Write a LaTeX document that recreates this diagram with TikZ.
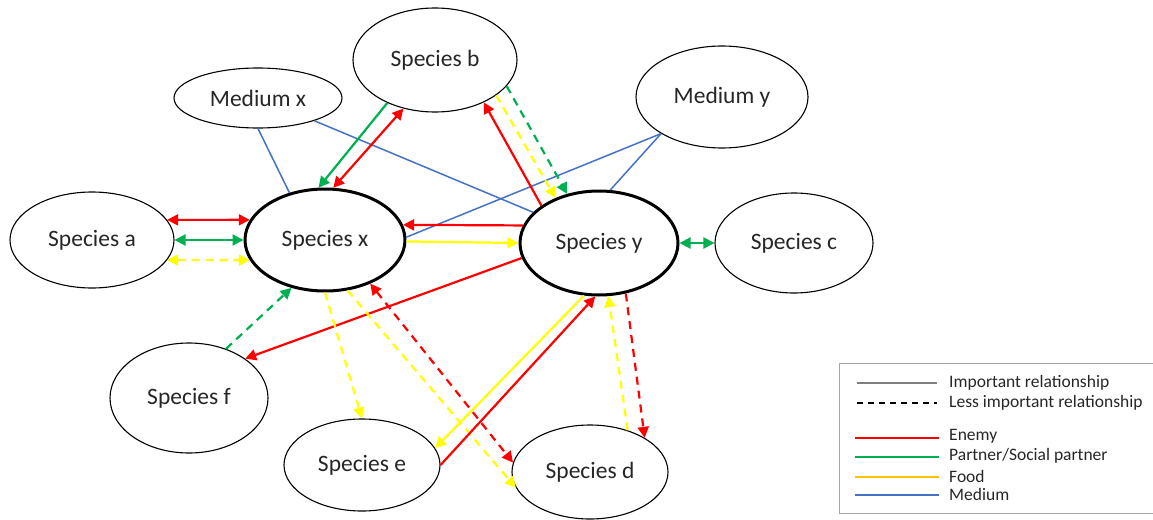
\documentclass[tikz,border=0pt]{standalone}
\usepackage{fontspec}
\setmainfont{Carlito}
\usetikzlibrary{arrows.meta,shapes.geometric}
\definecolor{cred}{HTML}{FF0000}
\definecolor{cgreen}{HTML}{00B050}
\definecolor{cyellow}{HTML}{FFFF00}
\definecolor{cfood}{HTML}{FFC000}
\definecolor{cblue}{HTML}{4472C4}
\definecolor{ctxt}{HTML}{262626}
\definecolor{cgray}{HTML}{7F7F7F}
\definecolor{cframe}{HTML}{A6A6A6}
\tikzset{
  sp/.style={ellipse,draw=black,line width=1.1pt,inner sep=0pt,text=ctxt,
    font=\fontsize{23.5}{27}\selectfont},
  main/.style={sp,line width=3pt},
  rel/.style={line width=2.2pt},
  tip/.style={-{Triangle[length=11pt,width=11pt]}},
  both/.style={{Triangle[length=11pt,width=11pt]}-{Triangle[length=11pt,width=11pt]}},
  less/.style={dash pattern=on 8pt off 6pt},
  enemy/.style={rel,draw=cred},
  partner/.style={rel,draw=cgreen},
  food/.style={rel,draw=cyellow},
  medium/.style={line width=1.5pt,draw=cblue},
  legtxt/.style={anchor=west,inner sep=0pt,text=ctxt,font=\fontsize{17.5}{20}\selectfont},
}
\begin{document}
\begin{tikzpicture}[x=1pt,y=-1pt]
\useasboundingbox (0,0) rectangle (1153,519);
% nodes
\node[sp,minimum width=164pt,minimum height=96pt] (a) at (92,240) {Species a};
\node[main,minimum width=160pt,minimum height=102pt] (x) at (325,240) {Species x};
\node[sp,minimum width=168pt,minimum height=60pt] (mx) at (258,98) {Medium x};
\node[sp,minimum width=164pt,minimum height=104pt] (b) at (435,60) {Species b};
\node[sp,minimum width=172pt,minimum height=102pt] (my) at (722,97) {Medium y};
\node[main,minimum width=158pt,minimum height=104pt] (y) at (599,243) {Species y};
\node[sp,minimum width=158pt,minimum height=100pt] (c) at (794,243) {Species c};
\node[sp,minimum width=158pt,minimum height=110pt] (f) at (189,398) {Species f};
\node[sp,minimum width=156pt,minimum height=92pt] (e) at (362,465) {Species e};
\node[sp,minimum width=156pt,minimum height=94pt] (d) at (590,472) {Species d};
% medium links
\draw[medium] (mx.270) -- (x.127);
\draw[medium] (mx.-22) -- (y.155);
\draw[medium] (my.211) -- (x.2);
\draw[medium] (my.211) -- (y.78);
% a - x
\draw[enemy,both] (a.15) -- (x.165);
\draw[partner,both] (a.0) -- (x.180);
\draw[food,both,less] (a.-15) -- (x.-165);
% b - x
\draw[partner,tip] (b.222) -- (x.97);
\draw[enemy,both] (b.237) -- (x.81);
% b - y
\draw[enemy,tip] (y.147) -- (b.-41);
\draw[food,tip,less] (b.-30) -- (y.134);
\draw[partner,tip,less] (b.-20) -- (y.123);
% x - y
\draw[enemy,tip] (y.167) -- (x.11);
\draw[food,tip] (x.-1) -- (y.180);
% y - c
\draw[partner,both] (y.0) -- (c.180);
% y - f, f - x
\draw[enemy,tip] (y.191) -- (f.35);
\draw[partner,tip,less] (f.53) -- (x.235);
% x - e, x - d
\draw[food,tip,less] (x.270) -- (e.90);
\draw[food,tip,less] (x.-66) -- (d.192);
\draw[enemy,both,less] (x.-44) -- (d.173);
% y - e
\draw[food,tip] (y.254) -- (e.13);
\draw[enemy,tip] (e.0) -- (y.266);
% y - d
\draw[food,tip,less] (d.48) -- (y.280);
\draw[enemy,tip,less] (y.-62) -- (d.32);
% legend
\node[draw=cframe,line width=1.3pt,minimum width=314pt,minimum height=150pt,inner sep=0pt,anchor=north west] (leg) at (839,363) {};
\coordinate (l1a) at (857,383); \coordinate (l1b) at (937,383);
\coordinate (l2a) at (857,403); \coordinate (l2b) at (937,403);
\coordinate (l3a) at (855,438); \coordinate (l3b) at (939,438);
\coordinate (l4a) at (855,457); \coordinate (l4b) at (939,457);
\coordinate (l5a) at (855,477); \coordinate (l5b) at (939,477);
\coordinate (l6a) at (855,495); \coordinate (l6b) at (939,495);
\draw[line width=2pt,cgray] (l1a) -- (l1b);
\draw[line width=2pt,black,dash pattern=on 6pt off 5pt] (l2a) -- (l2b);
\draw[enemy] (l3a) -- (l3b);
\draw[partner] (l4a) -- (l4b);
\draw[rel,draw=cfood] (l5a) -- (l5b);
\draw[rel,draw=cblue] (l6a) -- (l6b);
\node[legtxt] (t1) at (949,383) {Important relationship};
\node[legtxt] (t2) at (949,403) {Less important relationship};
\node[legtxt] (t3) at (949,436) {Enemy};
\node[legtxt] (t4) at (949,456) {Partner/Social partner};
\node[legtxt] (t5) at (949,476) {Food};
\node[legtxt] (t6) at (949,494) {Medium};
\end{tikzpicture}
\end{document}
